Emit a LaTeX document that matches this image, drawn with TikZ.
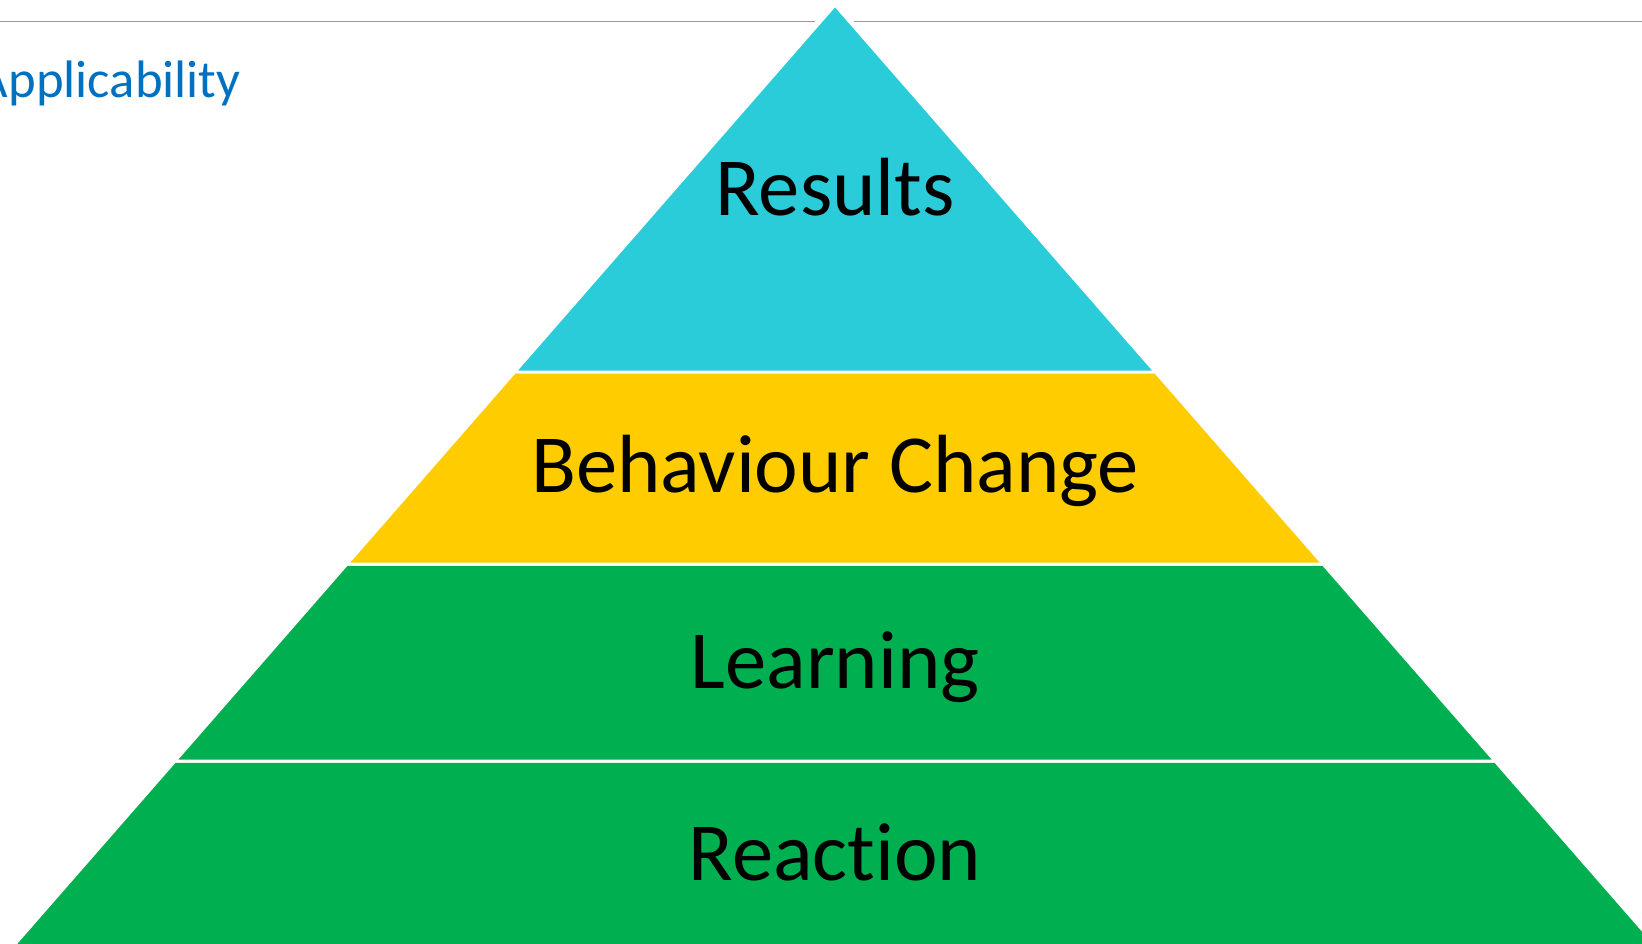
\documentclass[tikz,border=0pt]{standalone}
\usepackage{fontspec}
\setmainfont[RawFeature=-liga]{Carlito}
\definecolor{resultscyan}{HTML}{29CCD8}
\definecolor{changeyellow}{HTML}{FFCC00}
\definecolor{levelgreen}{HTML}{00B050}
\definecolor{titleblue}{HTML}{0070C0}
\begin{document}
\begin{tikzpicture}[x=0.02cm, y=-0.02cm,
    band/.style={draw=white, line width=1.7pt, line join=miter},
    level/.style={font=\fontsize{47}{47}\selectfont, text=black, anchor=base}]
            \useasboundingbox (0,0) rectangle (1642,943);
            \clip (0,0) rectangle (1642,943);

            %rule
            \coordinate (la) at (0,21.5);
            \coordinate (lb) at (815,21.5);
            \coordinate (lc) at (854,21.5);
            \coordinate (ld) at (1642,21.5);
            \draw[gray!80, line width=0.8pt] (la) -- (lb);
            \draw[gray!80, line width=0.8pt] (lc) -- (ld);

            %bands
            \filldraw[band, fill=levelgreen] (175,761) -- (1495,761) -- (1654,943) -- (1654,960) -- (16,960) -- (16,943) -- cycle;
            \filldraw[band, fill=levelgreen] (347,564) -- (1323,564) -- (1495,761) -- (175,761) -- cycle;
            \filldraw[band, fill=changeyellow] (514.6,372) -- (1155.4,372) -- (1323,564) -- (347,564) -- cycle;
            \filldraw[band, fill=resultscyan] (835,5) -- (1155.4,372) -- (514.6,372) -- cycle;

            %nodes
            \node[level] (results) at (835,215) {Results};
            \node[level] (behaviour) at (835,492) {Behaviour Change};
            \node[level] (learning) at (835,688) {Learning};
            \node[level] (reaction) at (835,880) {Reaction};
            \node[font=\fontsize{30}{30}\selectfont, text=titleblue, anchor=base east, inner sep=0pt] (applic) at (241,97) {Applicability};
        \end{tikzpicture}
\end{document}
